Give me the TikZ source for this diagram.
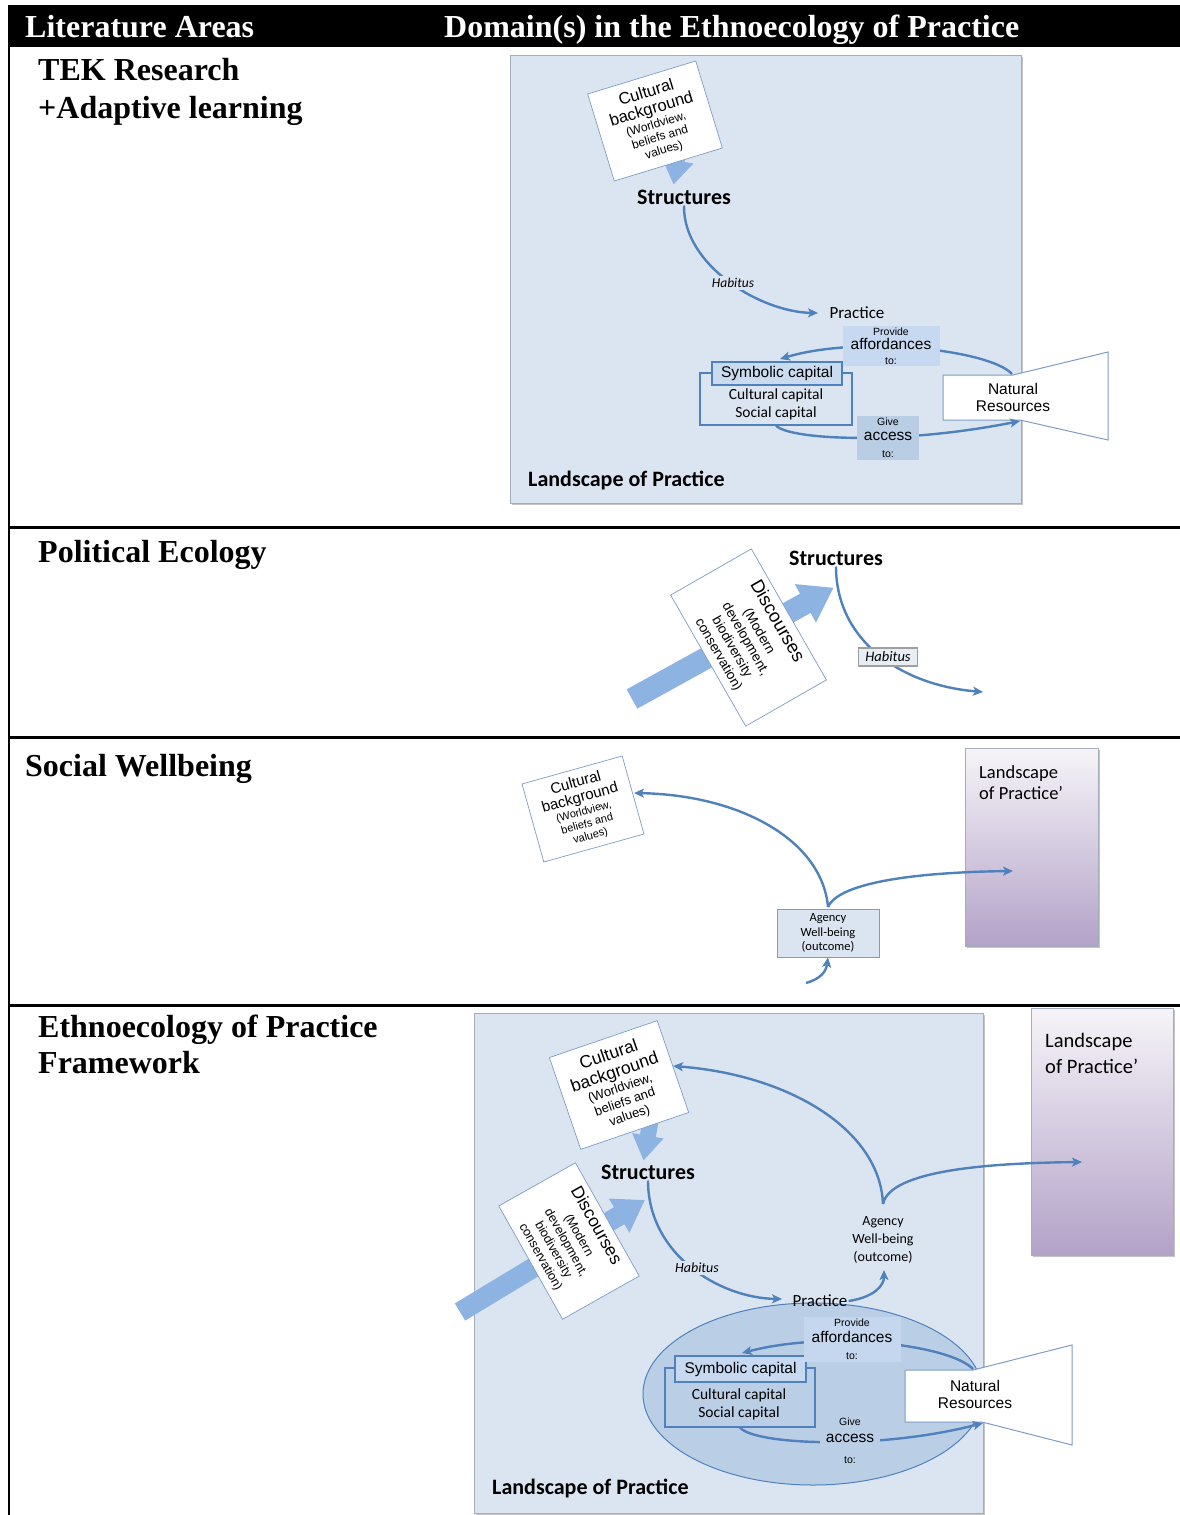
\documentclass[tikz,border=0pt]{standalone}
\usepackage{fontspec}
\setmainfont{Liberation Serif}
\newfontfamily\arialf{Liberation Sans}
\newfontfamily\calf{Carlito}
\usetikzlibrary{arrows.meta,shapes.geometric}
\newcommand\fsz[2]{\fontsize{#1}{#2}\selectfont}
\definecolor{bgblue}{HTML}{DBE5F1}
\definecolor{panelborder}{HTML}{A3ADBB}
\definecolor{lineblue}{HTML}{4F81BD}
\definecolor{fatblue}{HTML}{8DB3E2}
\definecolor{provbg}{HTML}{C6D9F1}
\definecolor{givebg}{HTML}{B9CDE5}
\definecolor{ellfill}{HTML}{BACEE6}
\definecolor{symfill}{HTML}{CADBF0}
\definecolor{cbborder}{HTML}{7F9CC2}
\definecolor{ptop}{HTML}{F6F4F8}
\definecolor{pbot}{HTML}{B3A2C8}
\definecolor{shadowgray}{HTML}{C4C4C4}
\newcommand\fatarr[7]{%
  \fill[fatblue, shift={(#1,#2)}, rotate=#3] (0,-#5) -- ({#4-#7},-#5) -- ({#4-#7},-#6) -- (#4,0) -- ({#4-#7},#6) -- ({#4-#7},#5) -- (0,#5) -- cycle;}
\tikzset{
  conn/.style={draw=lineblue, line width=2.4pt, -{Stealth[length=10pt,width=9pt,inset=2.5pt]}},
  cbox/.style={draw=cbborder, line width=0.7pt, fill=white, align=center, inner sep=1pt},
  hdr/.style={text=white, font=\bfseries\fsz{32}{35}, anchor=base west, inner sep=0},
  sect/.style={font=\bfseries\fsz{32}{35}, anchor=base west, inner sep=0},
  strlbl/.style={font=\calf\bfseries\fsz{22}{24}, inner sep=1pt},
  praclbl/.style={font=\calf\fsz{17}{18}, inner sep=1pt},
  panelbox/.style={draw=panelborder, fill=bgblue, line width=0.8pt},
  nrshape/.style={draw=cbborder, fill=white, line width=1pt},
  symbox/.style={draw=lineblue, line width=1.2pt, fill=symfill, inner sep=0, font=\arialf\fsz{15.5}{17}},
  capbox/.style={draw=lineblue, line width=1.2pt, inner sep=0},
  captxt/.style={font=\calf\fsz{15.5}{18}, align=center, inner sep=0},
  nrtxt/.style={font=\arialf\fsz{15.5}{17}, align=center, inner sep=0},
  labtxt/.style={align=center, inner sep=0},
  habtxt/.style={font=\calf\itshape\fsz{13.5}{15}, inner sep=2pt},
  lpbox/.style={top color=ptop, bottom color=pbot, draw=panelborder, line width=0.6pt},
}
\begin{document}
\begin{tikzpicture}[x=1pt,y=-1pt]
\useasboundingbox (0,0) rectangle (1180,1515);
\fill[white] (0,0) rectangle (1180,1515);

% ===== table frame =====
\fill[black] (8,5) rectangle (1180,47);
\node[hdr] (h1) at (25,37) {Literature Areas};
\node[hdr] (h2) at (444,37) {Domain(s) in the Ethnoecology of Practice};

\node[sect] (s1a) at (38,80) {TEK Research};
\node[sect] (s1b) at (38,118) {+Adaptive learning};
\node[sect] (s2) at (38,562) {Political Ecology};
\node[sect] (s3) at (25,776) {Social Wellbeing};
\node[sect] (s4a) at (38,1037) {Ethnoecology of Practice};
\node[sect] (s4b) at (38,1073) {Framework};

% ===== Panel 1 =====
\fill[shadowgray] (512,57) rectangle (1023,505);
\draw[panelbox] (510,55) rectangle (1021,503);
\fatarr{681}{142}{-100}{43}{7}{16}{24}
\node[cbox, rotate=17, minimum width=113, minimum height=91, font=\arialf\fsz{12}{13.5}] (cb1) at (655,121)
  {\fsz{16.5}{17}Cultural\\[4pt]\fsz{16.5}{17}background\\[1pt]\fsz{12}{12.5}(Worldview,\\\fsz{12}{12.5}beliefs and\\\fsz{12}{12.5}values)};
\node[strlbl] (st1) at (684,197) {Structures};
\node[praclbl] (pr1) at (857,313) {Practice};
\draw[conn] (st1.south) .. controls (683,265) and (760,312) .. (818,313);
\node[habtxt, fill=bgblue] (hab1) at (733,283) {Habitus};

\draw[nrshape] (943,375) -- (1013,375) -- (1108,352) -- (1108,440) -- (1020,420) -- (943,420) -- cycle;
\node[nrtxt] (nr1) at (1013,397) {Natural\\Resources};
\coordinate (nr1top) at (1012,374);
\coordinate (nr1bot) at (1020,421);

\node[capbox, minimum width=152, minimum height=52] (cap1) at (776,399) {};
\node[symbox, minimum width=130, minimum height=23] (sym1) at (777,373.5) {Symbolic capital};
\node[captxt] (capt1) at (776,404) {Cultural capital\\Social capital};

\draw[conn] (nr1top) .. controls (990,350) and (860,335) .. (780,359);
\draw[conn] (cap1.south) .. controls (790,440) and (900,445) .. (nr1bot);
\node[labtxt, fill=provbg, minimum width=97, minimum height=40, font=\arialf\fsz{10.5}{14.5}] (aff1) at (891,346)
  {\fsz{10.5}{11}Provide\\\fsz{15.5}{15}affordances\\\fsz{10.5}{11}to:};
\node[labtxt, fill=givebg, minimum width=62, minimum height=44, font=\arialf\fsz{10.5}{15}] (acc1) at (888,438)
  {\fsz{10.5}{11}Give\\\fsz{15.5}{15}access\\[2pt]\fsz{10.5}{11}to:};
\node[strlbl, anchor=west] (lop1) at (527,480) {Landscape of Practice};

% ===== Panel 2 =====
\fatarr{632}{699}{28.9}{230}{11}{22}{32}
\node[cbox, rotate=-60.2, minimum width=151, minimum height=93, font=\arialf\fsz{13.5}{15.5}] (dis2) at (748.5,637.5)
  {\fsz{18.5}{19}Discourses\\[4pt]\fsz{13.5}{15}(Modern\\\fsz{13.5}{15}development,\\\fsz{13.5}{15}biodiversity\\\fsz{13.5}{15}conservation)};
\node[strlbl] (st2) at (836,558) {Structures};
\coordinate (end2) at (983,692);
\draw[conn] (st2.south) .. controls (836,640) and (900,685) .. (end2);
\node[habtxt, draw=gray!75, fill=bgblue!70!white, line width=1.5pt, font=\calf\itshape\fsz{14.5}{15}, inner xsep=7pt, inner ysep=4pt] (hab2) at (888,657) {Habitus};

% ===== Panel 3 =====
\fill[shadowgray] (967,750) rectangle (1100,948);
\node[lpbox, minimum width=133, minimum height=198, inner sep=0] (lp3) at (1031.5,847) {};
\node[font=\calf\fsz{18.5}{21}, align=left, anchor=west, inner sep=0] (lp3t) at (979,782.5) {Landscape\\of Practice’};
\node[cbox, rotate=15.6, minimum width=104, minimum height=81, font=\arialf\fsz{11}{12.5}] (cb3) at (583,809)
  {\fsz{15}{15}Cultural\\[3pt]\fsz{15}{15}background\\[1pt]\fsz{11}{11.5}(Worldview,\\\fsz{11}{11.5}beliefs and\\\fsz{11}{11.5}values)};
\node[draw=cbborder, fill=bgblue, line width=0.8pt, minimum width=102, minimum height=48, align=center, inner sep=0, font=\calf\fsz{12.5}{14.5}] (ag3) at (828,933) {Agency\\Well-being\\(outcome)};
\coordinate (ag3top) at (828,907);
\coordinate (lp3in) at (1013,871);
\coordinate (src3) at (806,983);
\draw[conn] (ag3top) .. controls (822,840) and (740,795) .. (634,793);
\draw[conn] (ag3top) .. controls (840,880) and (930,872) .. (lp3in);
\draw[conn] (src3) .. controls (820,979) and (826,972) .. (ag3.south);

% ===== Panel 4 =====
\fill[shadowgray] (476,1015) rectangle (985,1515);
\draw[panelbox] (474,1013) rectangle (983,1513);
\fill[shadowgray] (1033,1010) rectangle (1175,1257);
\node[lpbox, minimum width=142, minimum height=247, inner sep=0] (lp4) at (1102,1131.5) {};
\node[font=\calf\fsz{20.5}{26}, align=left, anchor=west, inner sep=0] (lp4t) at (1045,1053) {Landscape\\of Practice’};

\node[ellipse, draw=lineblue, fill=ellfill, line width=1pt, minimum width=340, minimum height=182, inner sep=0] (ell) at (813,1394) {};

\fatarr{651}{1118}{-100}{43}{8}{16}{25}
\fatarr{460}{1312}{31.2}{216}{10}{20}{30}
\node[cbox, rotate=18.9, minimum width=114, minimum height=97, font=\arialf\fsz{13}{14.5}] (cb4) at (619,1085)
  {\fsz{17.5}{18}Cultural\\[4pt]\fsz{17.5}{18}background\\[1pt]\fsz{13}{13.5}(Worldview,\\\fsz{13}{13.5}beliefs and\\\fsz{13}{13.5}values)};
\node[cbox, rotate=-60.6, minimum width=130, minimum height=88, font=\arialf\fsz{12.5}{14.5}] (dis4) at (569,1241)
  {\fsz{17.5}{18}Discourses\\[4pt]\fsz{12.5}{14}(Modern\\\fsz{12.5}{14}development,\\\fsz{12.5}{14}biodiversity\\\fsz{12.5}{14}conservation)};
\node[strlbl] (st4) at (648,1172) {Structures};
\node[praclbl] (pr4) at (820,1301) {Practice};
\draw[conn] (st4.south) .. controls (648,1255) and (720,1298) .. (782,1299);
\node[habtxt, fill=bgblue, font=\calf\itshape\fsz{14}{15}] (hab4) at (697,1268) {Habitus};

\node[align=center, inner sep=0, font=\calf\fsz{14}{18}] (ag4) at (883,1240) {Agency\\Well-being\\(outcome)};
\coordinate (ag4top) at (883,1204);
\coordinate (ag4bot) at (884,1270);
\coordinate (lp4in) at (1082,1162);
\draw[conn] (pr4.east) .. controls (875,1297) and (884,1285) .. (ag4bot);
\draw[conn] (ag4top) .. controls (880,1130) and (790,1075) .. (673,1066);
\draw[conn] (ag4top) .. controls (890,1170) and (990,1163) .. (lp4in);

\draw[nrshape] (905,1370) -- (973,1370) -- (1072,1345) -- (1072,1445) -- (982,1422) -- (905,1422) -- cycle;
\node[nrtxt] (nr4) at (975,1394.5) {Natural\\Resources};
\coordinate (nr4top) at (973,1369);
\coordinate (nr4bot) at (983,1423);

\node[capbox, minimum width=150, minimum height=59] (cap4) at (740,1397.5) {};
\node[symbox, fill=provbg, minimum width=131, minimum height=26] (sym4) at (740.5,1369) {Symbolic capital};
\node[captxt] (capt4) at (739,1404) {Cultural capital\\Social capital};

\draw[conn] (nr4top) .. controls (950,1345) and (830,1330) .. (742,1353);
\draw[conn] (cap4.south) .. controls (755,1445) and (880,1450) .. (nr4bot);
\node[labtxt, fill=provbg!85!ellfill, minimum width=97, minimum height=45, font=\arialf\fsz{10.5}{16.5}] (aff4) at (852,1339)
  {\fsz{10.5}{11}Provide\\\fsz{15.5}{15}affordances\\\fsz{10.5}{11}to:};
\node[labtxt, fill=ellfill, minimum width=60, minimum height=45, font=\arialf\fsz{10.5}{17}] (acc4) at (850,1441)
  {\fsz{10.5}{11}Give\\\fsz{15.5}{15}access\\[4pt]\fsz{10.5}{11}to:};
\node[strlbl, anchor=west] (lop4) at (491,1488) {Landscape of Practice};

% ===== rules =====
\draw[line width=2.5pt] (9,47) -- (9,1515);
\draw[line width=3pt] (9,527) -- (1180,527);
\draw[line width=3pt] (9,737) -- (1180,737);
\draw[line width=3pt] (9,1005) -- (1180,1005);
\end{tikzpicture}
\end{document}
